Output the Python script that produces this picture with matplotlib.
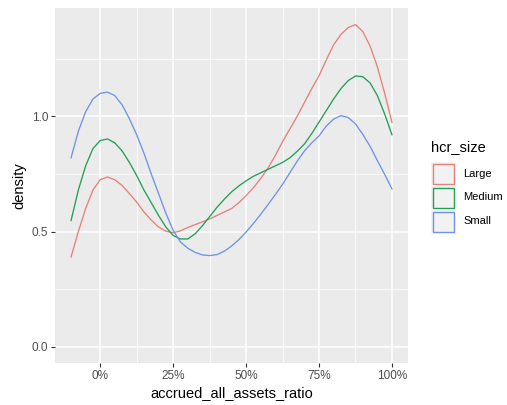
import matplotlib
matplotlib.use('Agg')
import matplotlib.pyplot as plt
from matplotlib.patches import Rectangle
from matplotlib.ticker import FuncFormatter

# values
ratio = [-0.1, -0.075, -0.05, -0.025, 0.0, 0.025, 0.05, 0.075, 0.1, 0.125,
         0.15, 0.175, 0.2, 0.225, 0.25, 0.275, 0.3, 0.325, 0.35, 0.375,
         0.4, 0.425, 0.45, 0.475, 0.5, 0.525, 0.55, 0.575, 0.6, 0.625,
         0.65, 0.675, 0.7, 0.725, 0.75, 0.775, 0.8, 0.825, 0.85, 0.875,
         0.9, 0.925, 0.95, 0.975, 1.0]

large = [0.39, 0.50, 0.60, 0.68, 0.725, 0.737, 0.725, 0.70, 0.665, 0.628,
         0.585, 0.55, 0.52, 0.502, 0.495, 0.503, 0.518, 0.53, 0.542, 0.555,
         0.57, 0.585, 0.60, 0.625, 0.656, 0.69, 0.73, 0.775, 0.83, 0.89,
         0.945, 1.0, 1.06, 1.12, 1.176, 1.245, 1.31, 1.355, 1.385, 1.398,
         1.368, 1.305, 1.215, 1.10, 0.974]

medium = [0.548, 0.68, 0.785, 0.86, 0.895, 0.902, 0.885, 0.85, 0.80, 0.743,
          0.68, 0.625, 0.57, 0.52, 0.483, 0.468, 0.468, 0.49, 0.525, 0.565,
          0.605, 0.64, 0.672, 0.698, 0.72, 0.74, 0.755, 0.77, 0.785, 0.80,
          0.82, 0.848, 0.88, 0.925, 0.975, 1.025, 1.075, 1.12, 1.155, 1.175,
          1.172, 1.145, 1.09, 1.01, 0.92]

small = [0.82, 0.935, 1.02, 1.075, 1.10, 1.105, 1.09, 1.05, 0.99, 0.92,
         0.84, 0.75, 0.665, 0.58, 0.505, 0.455, 0.428, 0.41, 0.399, 0.396,
         0.40, 0.415, 0.437, 0.465, 0.498, 0.535, 0.575, 0.617, 0.66, 0.705,
         0.755, 0.805, 0.85, 0.885, 0.915, 0.958, 0.988, 1.003, 0.995, 0.967,
         0.922, 0.87, 0.808, 0.748, 0.685]

groups = ['Large', 'Medium', 'Small']
series = [large, medium, small]
colors = ['#E8807A', '#22A055', '#6D94E6']

W, H = 507, 405
fig = plt.figure(figsize=(W / 100, H / 100), dpi=100)
plt.rcParams['font.family'] = ['Liberation Sans', 'DejaVu Sans']

ax = fig.add_axes([55 / W, 1 - 363 / H, (408 - 55) / W, (363 - 8) / H])
ax.set_facecolor('#EBEBEB')
for s in ax.spines.values():
    s.set_visible(False)

for vals, c in zip(series, colors):
    ax.plot(ratio, vals, color=c, lw=0.95, zorder=3)

ax.set_xlim(-0.155, 1.055)
ax.set_ylim(-0.07, 1.47)
ax.set_xticks([0, 0.25, 0.5, 0.75, 1.0])
ax.set_xticks([0.125, 0.375, 0.625, 0.875], minor=True)
ax.set_yticks([0.0, 0.5, 1.0])
ax.set_yticks([0.25, 0.75, 1.25], minor=True)
ax.xaxis.set_major_formatter(FuncFormatter(lambda v, p: '%d%%' % round(v * 100)))
ax.yaxis.set_major_formatter(FuncFormatter(lambda v, p: '%.1f' % v))
ax.grid(which='major', color='white', lw=1.1)
ax.grid(which='minor', color='white', lw=0.55)
ax.set_axisbelow(True)
ax.tick_params(which='major', length=2.75, width=0.8, color='#333333',
               labelsize=8.5, labelcolor='#4D4D4D', pad=2)
ax.tick_params(which='minor', length=0)

ax.set_xlabel('accrued_all_assets_ratio', fontsize=10.5, labelpad=3)
ax.set_ylabel('density', fontsize=10.5, labelpad=4)

# legend
def fx(px):
    return px / W

def fy(py):
    return 1 - py / H

fig.text(fx(431), fy(147), 'hcr_size', fontsize=10.5, va='center', ha='left')
for i, (g, c) in enumerate(zip(groups, colors)):
    top = 162 + i * 24
    fig.add_artist(Rectangle((fx(431), fy(top + 23)), 24 / W, 23 / H,
                             transform=fig.transFigure, facecolor='#F2F2F2',
                             edgecolor='none'))
    fig.add_artist(Rectangle((fx(432.5), fy(top + 21.5)), 21 / W, 20 / H,
                             transform=fig.transFigure, facecolor='none',
                             edgecolor=c, lw=1.0))
    fig.text(fx(463), fy(top + 11.5), g, fontsize=8, va='center', ha='left')

fig.savefig('out.png', dpi=100)
